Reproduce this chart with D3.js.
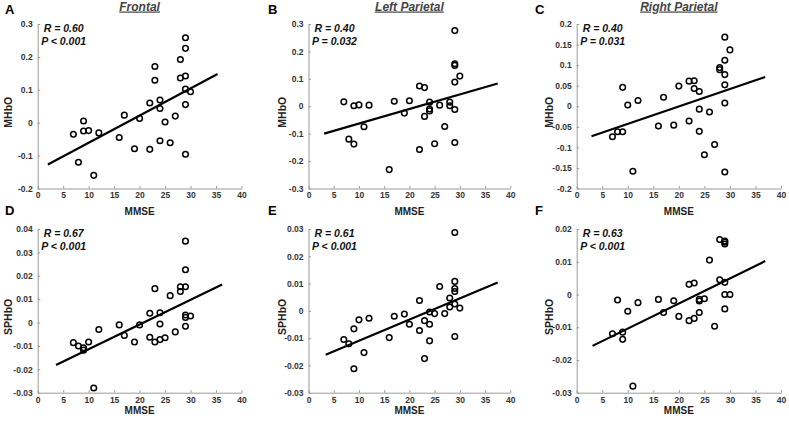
<!DOCTYPE html>
<html><head><meta charset="utf-8">
<script src="https://cdn.jsdelivr.net/npm/d3@7"></script>
<style>
html,body{margin:0;padding:0;background:#fff;}
svg{display:block;font-family:"Liberation Sans",Arial,sans-serif;}
</style></head>
<body><svg id="c" width="789" height="422"></svg>
<script>
// ---- data ----
const mmse = [7,8,9,9,10,11,12,16,17,19,20,22,22,23,23,24,24,24,25,26,27,28,28,29,29,29,29,29,29,30];
const frontalMHbO = [-0.035,-0.12,0.005,-0.025,-0.024,-0.16,-0.031,-0.045,0.023,-0.079,0.013,0.06,-0.081,0.171,0.129,0.069,0.043,-0.055,0.002,-0.061,0.02,0.192,0.136,0.258,0.226,0.142,0.102,0.055,-0.096,0.094];
const leftParMHbO = [0.016,-0.12,0.002,-0.138,0.005,-0.075,0.004,-0.231,0.018,-0.025,0.02,0.074,-0.158,0.068,-0.037,0.015,-0.01,-0.017,-0.137,0.004,-0.074,0.015,0.002,0.276,0.155,0.149,0.088,-0.012,-0.132,0.11];
const rightParMHbO = [-0.074,-0.062,0.046,-0.062,0.003,-0.158,0.014,-0.048,0.022,-0.046,0.049,0.061,-0.036,0.062,0.043,0.036,-0.007,-0.061,-0.118,-0.014,-0.093,0.094,0.089,0.168,0.112,0.077,0.052,0.008,-0.16,0.137];
const frontalSPHbO = [-0.0086,-0.0100,-0.0108,-0.0118,-0.0083,-0.028,-0.003,-0.001,-0.0055,-0.0083,-0.001,0.004,-0.0063,0.0145,-0.0083,0.0042,-0.0006,-0.0073,-0.0065,0.0115,-0.004,0.0153,0.0133,0.0348,0.0226,0.0153,0.0032,0.0022,-0.0016,0.0028];
const leftParSPHbO = [-0.0105,-0.0121,-0.0066,-0.0212,-0.0033,-0.0153,-0.0027,-0.0098,-0.002,-0.0012,-0.0049,0.0038,-0.0072,-0.0036,-0.0175,-0.0004,-0.0049,-0.011,-0.001,0.0089,-0.001,0.0047,0.0014,0.0287,0.0108,0.0082,0.0071,0.0025,-0.0094,0.001];
const rightParSPHbO = [-0.012,-0.0017,-0.0115,-0.0137,-0.0051,-0.028,-0.0025,-0.0015,-0.0055,-0.0019,-0.0067,0.0031,-0.008,0.0035,-0.0073,-0.0015,-0.002,-0.0055,-0.0013,0.0105,-0.0097,0.0168,0.0045,0.0163,0.0154,0.0037,0.0,-0.0044,0.0160,0.0];

const fitX = [[2,35.3],[3.1,37.5],[2.9,36.9],[3.6,36.2],[3.4,37.5],[3.1,36.9]];
const fitY = [[-0.127,0.148],[-0.1,0.083],[-0.073,0.071],[-0.0182,0.0163],[-0.0161,0.0104],[-0.0157,0.0102]];

const xTicks = [0,5,10,15,20,25,30,35,40];
const yTicksA = [-0.2,-0.1,0,0.1,0.2,0.3];
const yTicksB = [-0.3,-0.2,-0.1,0,0.1,0.2,0.3];
const yTicksC = [-0.2,-0.15,-0.1,-0.05,0,0.05,0.1,0.15,0.2];
const yTicksD = [-0.03,-0.02,-0.01,0,0.01,0.02,0.03,0.04];
const yTicksE = [-0.03,-0.02,-0.01,0,0.01,0.02,0.03];
const yTicksF = [-0.03,-0.02,-0.01,0,0.01,0.02];

const letters = ["A","B","C","D","E","F"];
const titles = ["Frontal","Left Parietal","Right Parietal","","",""];
const yLabels = ["MHbO","MHbO","MHbO","SPHbO","SPHbO","SPHbO"];
const rTexts = ["R = 0.60","R = 0.40","R = 0.40","R = 0.67","R = 0.61","R = 0.63"];
const pTexts = ["P < 0.001","P = 0.032","P = 0.031","P < 0.001","P < 0.001","P < 0.001"];
const yValues = [frontalMHbO,leftParMHbO,rightParMHbO,frontalSPHbO,leftParSPHbO,rightParSPHbO];
const yTickSets = [yTicksA,yTicksB,yTicksC,yTicksD,yTicksE,yTicksF];

// ---- layout ----
const cols = [[37.7,241.5],[308.5,510.3],[576.7,781]];
const rows = [[24,188.5],[229,392.7]];
const letterX = [5,268,535];
const letterY = [13.5,215];
const yLabX = [8,282,549];
const xLabY = [215,413.8];

const svg = d3.select("#c");
const fmt = v => String(+v.toFixed(4));

for (let i=0;i<6;i++){
  const r = Math.floor(i/3), c = i%3;
  const [x0,x1] = cols[c], [y0,y1] = rows[r];
  const yt = yTickSets[i];
  const x = d3.scaleLinear().domain([0,40]).range([x0,x1]);
  const y = d3.scaleLinear().domain([d3.min(yt), d3.max(yt)]).range([y1,y0]);
  const g = svg.append("g");

  // axes
  const xa = g.append("g").attr("transform",`translate(0,${y1})`)
    .call(d3.axisBottom(x).tickValues(xTicks).tickFormat(fmt).tickSizeInner(-2.5).tickSizeOuter(0).tickPadding(4));
  const ya = g.append("g").attr("transform",`translate(${x0},0)`)
    .call(d3.axisLeft(y).tickValues(yt).tickFormat(fmt).tickSizeInner(-2.5).tickSizeOuter(0).tickPadding(5));
  [xa,ya].forEach(a=>{
    a.select(".domain").attr("stroke","#9a9a9a").attr("stroke-width",1);
    a.selectAll(".tick line").attr("stroke","#9a9a9a");
    a.selectAll(".tick text").attr("fill","#333").attr("font-size","8.5px").attr("font-weight","bold")
      .attr("font-family","'Liberation Sans',Arial,sans-serif");
  });
  xa.selectAll(".tick text").attr("dy","0.7em");

  // fit line
  g.append("line")
    .attr("x1",x(fitX[i][0])).attr("y1",y(fitY[i][0]))
    .attr("x2",x(fitX[i][1])).attr("y2",y(fitY[i][1]))
    .attr("stroke","#000").attr("stroke-width",2.2);

  // points
  g.selectAll("circle.pt").data(yValues[i]).enter().append("circle")
    .attr("class","pt")
    .attr("cx",(d,k)=>x(mmse[k])).attr("cy",d=>y(d)).attr("r",2.8)
    .attr("fill","none").attr("stroke","#000").attr("stroke-width",1.5);

  // stats text
  const cx = x0+26;
  g.append("text").attr("x",cx).attr("y",y0+7.5).attr("text-anchor","middle")
    .attr("font-size","10.5px").attr("font-weight","bold").attr("font-style","italic").attr("fill","#111")
    .text(rTexts[i]);
  g.append("text").attr("x",cx).attr("y",y0+21).attr("text-anchor","middle")
    .attr("font-size","10.5px").attr("font-weight","bold").attr("font-style","italic").attr("fill","#111")
    .text(pTexts[i]);

  // axis labels
  g.append("text").attr("x",(x0+x1)/2).attr("y",xLabY[r]).attr("text-anchor","middle")
    .attr("font-size","10px").attr("font-weight","bold").attr("fill","#222").text("MMSE");
  g.append("text").attr("transform",`translate(${yLabX[c]+3.5},${(y0+y1)/2+6}) rotate(-90)`)
    .attr("text-anchor","middle").attr("font-size","10.5px").attr("font-weight","bold").attr("fill","#222")
    .text(yLabels[i]);

  // letter
  g.append("text").attr("x",letterX[c]).attr("y",letterY[r])
    .attr("font-size","13px").attr("font-weight","bold").attr("fill","#000").text(letters[i]);

  // title
  if (titles[i]) {
    g.append("text").attr("x",(x0+x1)/2).attr("y",10.5).attr("text-anchor","middle")
      .attr("font-size","12px").attr("font-weight","bold").attr("font-style","italic")
      .attr("fill","#444").style("text-decoration","underline").text(titles[i]);
  }
}
</script></body></html>
